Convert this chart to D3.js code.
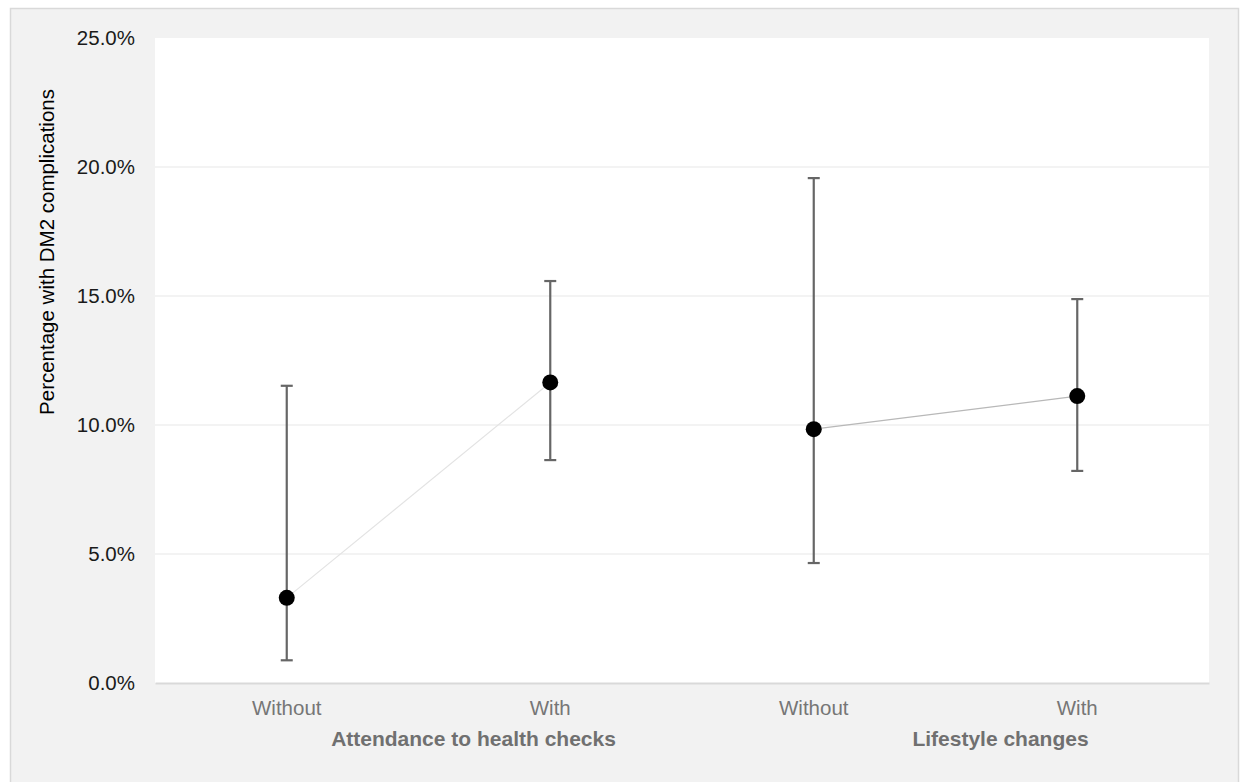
<!DOCTYPE html>
<html>
<head>
<meta charset="utf-8">
<script src="https://cdn.jsdelivr.net/npm/d3@7"></script>
<style>
  body { margin: 0; background: #fff; }
  svg { display: block; font-family: Arial, "Liberation Sans", sans-serif; }
</style>
</head>
<body>
<svg id="chart" width="1241" height="782"></svg>
<script>
// values (percent)
const categories = ['Without', 'With', 'Without', 'With']
const groups = ['Attendance to health checks', 'Lifestyle changes']
const groupOf = [0, 0, 1, 1]
const values = [3.3, 11.65, 9.84, 11.12]
const lower = [0.88, 8.64, 4.65, 8.22]
const upper = [11.52, 15.58, 19.57, 14.88]
const yTicks = [0, 5, 10, 15, 20, 25]
const lineColors = ['#e3e3e3', '#b8b8b8']

const W = 1241, H = 782
const plot = { left: 155, right: 1209, top: 38, bottom: 683 }

const svg = d3.select('#chart')

// outer panel
svg.append('rect')
   .attr('x', 10.5).attr('y', 8.5)
   .attr('width', 1228).attr('height', 790)
   .attr('fill', '#f2f2f2')
   .attr('stroke', '#d9d9d9')
   .attr('stroke-width', 1.5)

svg.append('rect')
   .attr('x', plot.left).attr('y', plot.top)
   .attr('width', plot.right - plot.left)
   .attr('height', plot.bottom - plot.top)
   .attr('fill', '#fff')

const idx = categories.map((d, i) => i)
const x = d3.scaleBand()
            .domain(idx)
            .range([plot.left, plot.right])
            .padding(0)
const cx = i => x(i) + x.bandwidth() / 2

const y = d3.scaleLinear()
            .domain([0, 25])
            .range([plot.bottom, plot.top])

// gridlines
svg.append('g')
   .selectAll('line')
   .data(yTicks.filter(t => t > 0 && t < 25))
   .join('line')
   .attr('x1', plot.left).attr('x2', plot.right)
   .attr('y1', d => y(d)).attr('y2', d => y(d))
   .attr('stroke', '#efefef')
   .attr('stroke-width', 1.5)

// y axis labels
const yAxis = d3.axisLeft(y)
                .tickValues(yTicks)
                .tickFormat(d => d.toFixed(1) + '%')
                .tickSize(0)
                .tickPadding(20)
const gy = svg.append('g')
              .attr('transform', `translate(${plot.left},0)`)
              .call(yAxis)
gy.select('.domain').remove()
gy.selectAll('text')
  .attr('font-size', 20.5)
  .attr('font-family', 'Arial, "Liberation Sans", sans-serif')
  .attr('fill', '#1a1a1a')

// x axis: category labels
const xAxis = d3.axisBottom(x)
                .tickFormat(i => categories[i])
                .tickSize(0)
                .tickPadding(17)
const gx = svg.append('g')
              .attr('transform', `translate(0,${plot.bottom})`)
              .call(xAxis)
gx.select('.domain')
  .attr('stroke', '#d9d9d9')
  .attr('stroke-width', 2)
gx.selectAll('text')
  .attr('font-size', 20.5)
  .attr('font-family', 'Arial, "Liberation Sans", sans-serif')
  .attr('fill', '#767676')

// group labels
svg.append('g')
   .selectAll('text')
   .data(groups)
   .join('text')
   .attr('x', (d, g) => {
     const members = idx.filter(i => groupOf[i] === g)
     return d3.mean(members, cx) + 55
   })
   .attr('y', 746)
   .attr('text-anchor', 'middle')
   .attr('font-size', 21)
   .attr('font-weight', 'bold')
   .attr('fill', '#707070')
   .text(d => d)

// y title
svg.append('text')
   .attr('transform', 'translate(54,252) rotate(-90)')
   .attr('text-anchor', 'middle')
   .attr('font-size', 20.5)
   .attr('fill', '#000')
   .text('Percentage with DM2 complications')

// connecting lines within each group
groups.forEach((g, gi) => {
  const members = idx.filter(i => groupOf[i] === gi)
  const line = d3.line()
                 .x(i => cx(i))
                 .y(i => y(values[i]))
  svg.append('path')
     .attr('d', line(members))
     .attr('fill', 'none')
     .attr('stroke', lineColors[gi])
     .attr('stroke-width', 1.2)
})

// error bars
const eb = svg.append('g')
              .attr('stroke', '#666')
              .attr('stroke-width', 2.2)
eb.selectAll('.stem')
  .data(idx)
  .join('line')
  .attr('x1', cx).attr('x2', cx)
  .attr('y1', i => y(lower[i])).attr('y2', i => y(upper[i]))
eb.selectAll('.capTop')
  .data(idx)
  .join('line')
  .attr('x1', i => cx(i) - 6).attr('x2', i => cx(i) + 6)
  .attr('y1', i => y(upper[i])).attr('y2', i => y(upper[i]))
eb.selectAll('.capBot')
  .data(idx)
  .join('line')
  .attr('x1', i => cx(i) - 6).attr('x2', i => cx(i) + 6)
  .attr('y1', i => y(lower[i])).attr('y2', i => y(lower[i]))

// points
svg.append('g')
   .selectAll('circle')
   .data(idx)
   .join('circle')
   .attr('cx', cx)
   .attr('cy', i => y(values[i]))
   .attr('r', 8)
   .attr('fill', '#000')
</script>
</body>
</html>
